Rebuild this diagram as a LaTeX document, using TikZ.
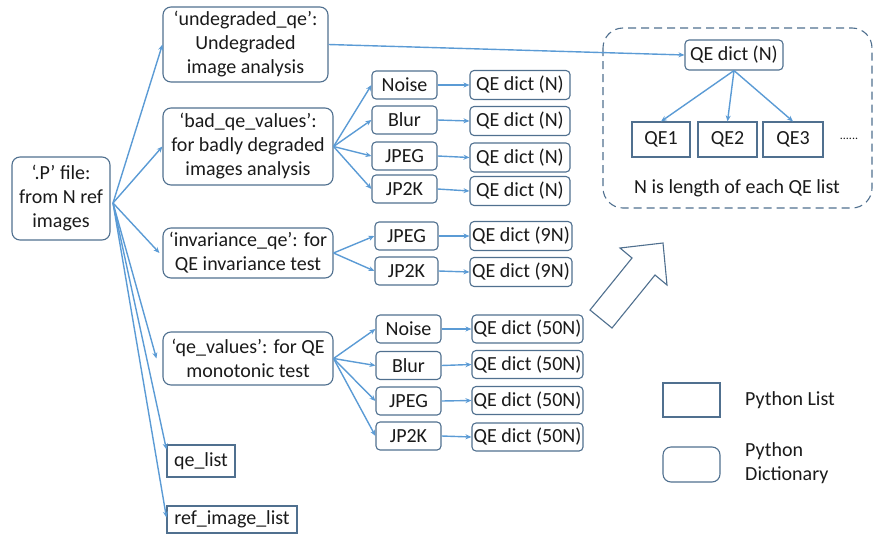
\documentclass[tikz,border=0pt]{standalone}
\usepackage{fontspec}
\setmainfont{Carlito}
\usetikzlibrary{arrows.meta}
\definecolor{boxc}{HTML}{50708F}
\definecolor{linec}{HTML}{5B9BD5}
\definecolor{txtc}{HTML}{1A1A1A}
\newcommand\myfs{\fontsize{20}{24}\selectfont}
\begin{document}
\begin{tikzpicture}[x=1pt,y=-1pt,
  base/.style={draw=boxc, line width=1.1pt, font=\myfs, text=txtc, align=center, inner sep=0pt},
  dictb/.style={base, rounded corners=8pt},
  smalld/.style={base, rounded corners=4pt},
  listb/.style={base},
  conn/.style={draw=linec, line width=1.4pt, -{Stealth[length=6pt,width=5pt]}},
  lbl/.style={font=\myfs, text=txtc, inner sep=0pt}]
\useasboundingbox (0,0) rectangle (874,535);

% left column
\node[dictb, minimum width=98pt, minimum height=83pt] (pfile) at (61,198.5) {‘.P’ file:\\from N ref\\images};
\coordinate (hub) at (113,203);

\node[dictb, minimum width=165pt, minimum height=75pt] (undeg) at (245.5,44.5) {‘undegraded\_qe’:\\Undegraded\\image analysis};
\node[dictb, minimum width=170pt, minimum height=77pt] (badqe) at (248,146.5) {‘bad\_qe\_values’:\\for badly degraded\\images analysis};
\node[dictb, minimum width=170pt, minimum height=50pt] (invqe) at (248,253) {‘invariance\_qe’: for\\QE invariance test};
\node[dictb, minimum width=170pt, minimum height=53pt] (qev) at (248,358.5) {‘qe\_values’: for QE\\monotonic test};
\node[listb, minimum width=68pt, minimum height=32pt] (qelist) at (201,461) {qe\_list};
\node[listb, minimum width=130pt, minimum height=27pt] (reflist) at (232,519.5) {ref\_image\_list};

% bad_qe_values group
\node[smalld, minimum width=65pt, minimum height=28pt] (bn) at (404.5,85) {Noise};
\node[smalld, minimum width=65pt, minimum height=28pt] (bb) at (404.5,120) {Blur};
\node[smalld, minimum width=65pt, minimum height=28pt] (bj) at (404.5,156) {JPEG};
\node[smalld, minimum width=65pt, minimum height=28pt] (bk) at (404.5,189) {JP2K};
\node[smalld, minimum width=100pt, minimum height=29pt] (bnd) at (520,85) {QE dict (N)};
\node[smalld, minimum width=100pt, minimum height=29pt] (bbd) at (520,121) {QE dict (N)};
\node[smalld, minimum width=100pt, minimum height=29pt] (bjd) at (520,157.5) {QE dict (N)};
\node[smalld, minimum width=100pt, minimum height=29pt] (bkd) at (520,191) {QE dict (N)};

% invariance group
\node[smalld, minimum width=63pt, minimum height=28pt] (ij) at (406.5,236) {JPEG};
\node[smalld, minimum width=63pt, minimum height=28pt] (ik) at (406.5,271) {JP2K};
\node[smalld, minimum width=102pt, minimum height=29pt] (ijd) at (521,236) {QE dict (9N)};
\node[smalld, minimum width=102pt, minimum height=29pt] (ikd) at (521,272) {QE dict (9N)};

% qe_values group
\node[smalld, minimum width=65pt, minimum height=28pt] (qn) at (408.5,329) {Noise};
\node[smalld, minimum width=65pt, minimum height=28pt] (qb) at (408.5,365.5) {Blur};
\node[smalld, minimum width=65pt, minimum height=28pt] (qj) at (408.5,401) {JPEG};
\node[smalld, minimum width=65pt, minimum height=28pt] (qk) at (408.5,436) {JP2K};
\node[smalld, minimum width=111pt, minimum height=28pt] (qnd) at (527.5,329) {QE dict (50N)};
\node[smalld, minimum width=111pt, minimum height=28pt] (qbd) at (527.5,364.5) {QE dict (50N)};
\node[smalld, minimum width=111pt, minimum height=28pt] (qjd) at (527.5,400.5) {QE dict (50N)};
\node[smalld, minimum width=111pt, minimum height=28pt] (qkd) at (527.5,437) {QE dict (50N)};

% right dashed container
\draw[boxc, line width=1.1pt, dash pattern=on 8pt off 5pt, rounded corners=20pt] (603,28) rectangle (872,208);
\node[smalld, minimum width=98pt, minimum height=30pt] (topd) at (734,55) {QE dict (N)};
\node[listb, minimum width=58pt, minimum height=35pt] (qe1) at (661,139.5) {QE1};
\node[listb, minimum width=59pt, minimum height=35pt] (qe2) at (727.5,139.5) {QE2};
\node[listb, minimum width=60pt, minimum height=35pt] (qe3) at (793,139.5) {QE3};
\node[lbl, font=\fontsize{12}{14}\selectfont] (dots) at (849,139) {......};
\node[lbl] (nlen) at (737,188) {N is length of each QE list};

% big hollow arrow
\draw[boxc, line width=1.1pt, fill=white, line join=miter] (590,310) -- (632,258) -- (620,248) -- (663,243) -- (667,285) -- (655,275) -- (612,328) -- cycle;

% legend
\node[listb, minimum width=57pt, minimum height=34pt] (leglist) at (691.5,400) {};
\node[dictb, minimum width=57pt, minimum height=35pt] (legdict) at (691.5,464.5) {};
\node[lbl, anchor=west] (leglistt) at (745,400) {Python List};
\node[lbl, anchor=west, align=left] (legdictt) at (745,463) {Python\\Dictionary};

% connectors from .P file
\draw[conn] (hub) -- (undeg.west);
\draw[conn] (hub) -- (badqe.west);
\draw[conn] (hub) -- ([xshift=-3pt]invqe.west);
\draw[conn] (hub) -- ([xshift=-6pt]qev.west);
\draw[conn] (hub) -- ([yshift=-5pt]qelist.north west);
\draw[conn] (hub) -- ([yshift=2pt]reflist.west);

% undegraded to QE dict
\draw[conn] (undeg.east) -- (topd.west);
\draw[conn] (topd.south) -- (qe1.north);
\draw[conn] (topd.south) -- (qe2.north);
\draw[conn] (topd.south) -- (qe3.north);

% fans
\foreach \t in {bn,bb,bj,bk} \draw[conn] (badqe.east) -- (\t.west);
\foreach \t in {ij,ik} \draw[conn] (invqe.east) -- (\t.west);
\foreach \t in {qn,qb,qj,qk} \draw[conn] (qev.east) -- (\t.west);

% horizontal
\draw[conn] (bn.east) -- (bnd.west);
\draw[conn] (bb.east) -- (bbd.west);
\draw[conn] (bj.east) -- (bjd.west);
\draw[conn] (bk.east) -- (bkd.west);
\draw[conn] (ij.east) -- (ijd.west);
\draw[conn] (ik.east) -- (ikd.west);
\draw[conn] (qn.east) -- (qnd.west);
\draw[conn] (qb.east) -- (qbd.west);
\draw[conn] (qj.east) -- (qjd.west);
\draw[conn] (qk.east) -- (qkd.west);
\end{tikzpicture}
\end{document}
